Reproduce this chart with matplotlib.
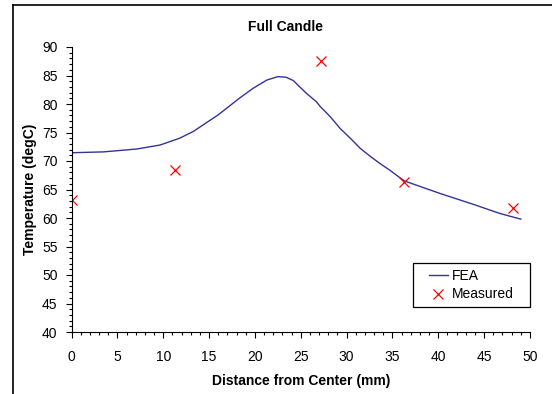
import matplotlib
matplotlib.use("Agg")
import matplotlib.pyplot as plt
from matplotlib.lines import Line2D
from matplotlib.patches import Rectangle

plt.rcParams['font.family'] = ['Liberation Sans', 'DejaVu Sans']

fea_x = [0, 3.5, 7.1, 9.65, 11.8, 13.3, 16.0, 18.3, 19.8, 21.3, 22.5, 23.4, 24.2, 24.7,
         25.6, 26.7, 27.1, 28.2, 29.3, 30.4, 31.5, 32.6, 33.6, 34.7, 35.7, 36.3, 40.2,
         44.0, 46.7, 49.0]
fea_y = [71.45, 71.6, 72.1, 72.8, 74.0, 75.2, 78.1, 81.0, 82.75, 84.2, 84.8, 84.7, 84.1, 83.3,
         81.9, 80.4, 79.6, 77.8, 75.7, 74.0, 72.2, 70.8, 69.6, 68.4, 67.2, 66.5, 64.3,
         62.3, 60.8, 59.8]
meas_x = [0, 11.25, 27.2, 36.3, 48.1]
meas_y = [63.2, 68.5, 87.5, 66.4, 61.8]

W, H = 552, 394
fig = plt.figure(figsize=(W / 100, H / 100), dpi=100)
L, R, T, B = 71.5, 530, 47, 332
ax = fig.add_axes([L / W, 1 - B / H, (R - L) / W, (B - T) / H])

ax.plot(fea_x, fea_y, color='#333399', lw=1.0, label='FEA')
ax.plot(meas_x, meas_y, linestyle='none', marker='x', color='#FF0000',
        markersize=6.5, markeredgewidth=0.9, label='Measured')

ax.set_xlim(0, 50)
ax.set_ylim(40, 90)
ax.set_xticks(range(0, 51, 5))
ax.set_yticks(range(40, 91, 5))
ax.set_xticks(range(0, 51, 1), minor=True)
ax.set_yticks(range(40, 91, 1), minor=True)
ax.tick_params(which='major', direction='out', length=4, width=0.8, labelsize=10)
ax.tick_params(which='minor', direction='out', length=2.2, width=0.8)
ax.tick_params(axis='x', which='major', pad=9)
ax.tick_params(axis='y', which='major', pad=6)
for s in ['top', 'right']:
    ax.spines[s].set_visible(False)

fig.text(285 / W, 1 - 27 / H, 'Full Candle', fontsize=10, fontweight='bold',
         ha='center', va='center')
ax.set_xlabel('Distance from Center (mm)', fontsize=10, fontweight='bold', labelpad=7)
ax.set_ylabel('Temperature (degC)', fontsize=10, fontweight='bold', labelpad=4)

# legend
lx0, lx1, ly0, ly1 = 413, 530, 263, 307
leg = ax.legend(loc='center', bbox_to_anchor=((lx0 + lx1) / 2 / W, 1 - (ly0 + ly1) / 2 / H),
                bbox_transform=fig.transFigure, fontsize=10, frameon=False,
                handlelength=1.3, handletextpad=0.3, borderpad=0, labelspacing=0.35)
fig.add_artist(Rectangle((lx0 / W, 1 - ly1 / H), (lx1 - lx0) / W, (ly1 - ly0) / H,
                         transform=fig.transFigure, fill=False, edgecolor='black', lw=0.9))

# chart area border (left and top edges visible)
fig.add_artist(Line2D([13 / W, 13 / W], [0, 1 - 5 / H], color='black', lw=1.2,
                      transform=fig.transFigure))
fig.add_artist(Line2D([13 / W, 1], [1 - 5 / H, 1 - 5 / H], color='black', lw=1.2,
                      transform=fig.transFigure))

fig.savefig('out.png', dpi=100)
